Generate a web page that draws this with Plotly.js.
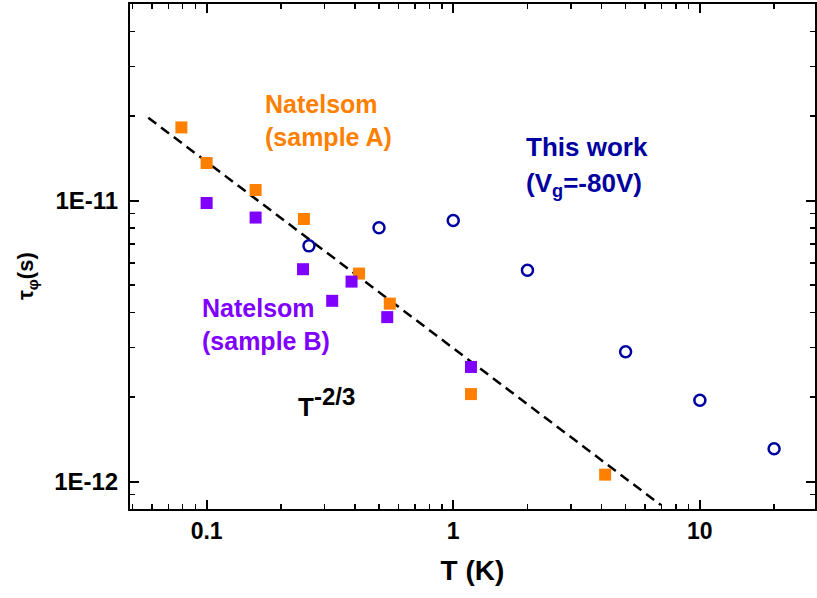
<!DOCTYPE html>
<html><head><meta charset="utf-8">
<script src="https://cdn.plot.ly/plotly-3.0.1.min.js"></script>
<style>html,body{margin:0;padding:0;background:#fff}</style>
</head><body>
<div id="chart" style="width:817px;height:598px"></div>
<script>
// Natelson sample A (orange squares)
const sampleA_T   = [0.079, 0.1, 0.158, 0.248, 0.415, 0.553, 1.18, 4.13];
const sampleA_tau = [1.82e-11, 1.36e-11, 1.09e-11, 8.6e-12, 5.5e-12, 4.3e-12, 2.05e-12, 1.06e-12];
// Natelson sample B (purple squares)
const sampleB_T   = [0.1, 0.158, 0.246, 0.323, 0.387, 0.54, 1.18];
const sampleB_tau = [9.8e-12, 8.7e-12, 5.7e-12, 4.4e-12, 5.15e-12, 3.85e-12, 2.56e-12];
// This work, Vg = -80 V (open blue circles)
const thisWork_T   = [0.26, 0.5, 1, 2, 5, 10, 20];
const thisWork_tau = [6.9e-12, 8.0e-12, 8.5e-12, 5.65e-12, 2.9e-12, 1.95e-12, 1.31e-12];
// T^-2/3 guide line (end points)
const fit_T   = [0.058, 6.95];
const fit_tau = [1.97e-11, 8.26e-13];
// ticks
const xTickVals = [0.1, 1, 10];
const xTickText = ['0.1', '1', '10'];
const yTickVals = [1e-12, 1e-11];
const yTickText = ['1E-12', '1E-11'];

function minorVals(d0, d1) {
  const v = [];
  for (let d = d0; d <= d1; d++) for (let k = 2; k <= 9; k++) v.push(k * Math.pow(10, d));
  return v;
}

const FONT = 'Liberation Sans, Arial, Helvetica, sans-serif';
const ORANGE = '#FF7F00', PURPLE = '#7F00FF', BLUE = '#0000A0';

const traces = [
  {x: fit_T, y: fit_tau, mode: 'lines', line: {color: 'black', width: 2.5, dash: '10px,6px'}, hoverinfo: 'skip'},
  {x: sampleA_T, y: sampleA_tau, mode: 'markers', name: 'Natelsom (sample A)',
   marker: {symbol: 'square', size: 12, color: ORANGE}},
  {x: sampleB_T, y: sampleB_tau, mode: 'markers', name: 'Natelsom (sample B)',
   marker: {symbol: 'square', size: 12, color: PURPLE}},
  {x: thisWork_T, y: thisWork_tau, mode: 'markers', name: 'This work',
   marker: {symbol: 'circle-open', size: 11, color: BLUE, line: {width: 2.5, color: BLUE}}}
];

function axisBase(minor) {
  return {
    type: 'log', showline: true, linewidth: 2, linecolor: 'black', mirror: 'ticks',
    ticks: 'inside', ticklen: 9, tickwidth: 2, tickcolor: 'black',
    showgrid: false, zeroline: false, tickmode: 'array',
    minor: {tickmode: 'array', tickvals: minor, ticks: 'inside', ticklen: 5, tickwidth: 1.5, tickcolor: 'black', showgrid: false},
    tickfont: {family: FONT, size: 23, color: 'black', weight: 'bold'}
  };
}

const xaxis = Object.assign(axisBase(minorVals(-2, 1)), {
  range: [Math.log10(0.0489), Math.log10(29.3)],
  tickvals: xTickVals, ticktext: xTickText,
  title: {text: 'T (K)', font: {family: FONT, size: 28, color: 'black', weight: 'bold'}, standoff: 18}
});
const yaxis = Object.assign(axisBase(minorVals(-13, -11)), {
  range: [Math.log10(8.0e-13), Math.log10(5.0e-11)],
  tickvals: yTickVals, ticktext: yTickText,
  ticklabelstandoff: 5,
  tickfont: {family: FONT, size: 24, color: 'black', weight: 'bold'}
});

function ann(text, x, y, color, size, xanchor, yanchor, angle) {
  return {text: text, xref: 'paper', yref: 'paper', x: x, y: y, xanchor: xanchor, yanchor: yanchor,
    align: 'left', showarrow: false, textangle: angle || 0,
    font: {family: FONT, size: size, color: color, weight: 'bold'}};
}

const layout = {
  width: 817, height: 598,
  margin: {l: 130, r: 2, t: 4, b: 89},
  paper_bgcolor: 'white', plot_bgcolor: 'white',
  showlegend: false,
  xaxis: xaxis, yaxis: yaxis,
  annotations: [
    ann('τ<sub>φ</sub>(s)', -0.1504, 0.4614, 'black', 22, 'center', 'middle', -90),
    ann('Natelsom<br>(sample A)', 0.1942, 0.8337, ORANGE, 25, 'left', 'top'),
    ann('Natelsom<br>(sample B)', 0.1022, 0.4297, PURPLE, 25, 'left', 'top'),
    ann('This work', 0.5752, 0.7505, BLUE, 26, 'left', 'top'),
    ann('(V<sub>g</sub>=-80V)', 0.5752, 0.6792, BLUE, 26, 'left', 'top'),
    ann('T<sup><span style="font-size:24px">-2/3</span></sup>', 0.2423, 0.1693, 'black', 26, 'left', 'bottom')
  ]
};

Plotly.newPlot('chart', traces, layout, {displayModeBar: false, staticPlot: true});
</script>
</body></html>
